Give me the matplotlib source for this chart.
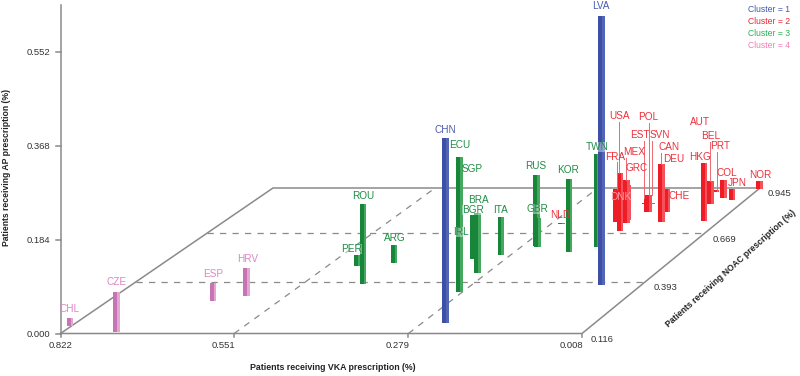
import numpy as np
import matplotlib
matplotlib.use('Agg')
import matplotlib.pyplot as plt

plt.rcParams['font.family'] = ['Liberation Sans', 'DejaVu Sans']

# Values (share of patients)
countries = ['CHL', 'CZE', 'ESP', 'HRV',
             'ROU', 'PER', 'ARG', 'ECU', 'SGP', 'IRL', 'BGR', 'BRA', 'ITA', 'RUS', 'GBR', 'KOR', 'TWN',
             'CHN', 'LVA',
             'NLD', 'USA', 'FRA', 'DNK', 'MEX', 'GRC', 'EST', 'POL', 'SVN', 'CAN', 'DEU', 'CHE',
             'HKG', 'AUT', 'BEL', 'PRT', 'COL', 'JPN', 'NOR']
clusters = [4, 4, 4, 4,
            3, 3, 3, 3, 3, 3, 3, 3, 3, 3, 3, 3, 3,
            1, 1,
            2, 2, 2, 2, 2, 2, 2, 2, 2, 2, 2, 2,
            2, 2, 2, 2, 2, 2, 2]
vka = [0.824, 0.738, 0.656, 0.614,
       0.455, 0.502, 0.450, 0.284, 0.294, 0.376, 0.331, 0.295, 0.295, 0.256, 0.252, 0.191, 0.156,
       0.243, 0.072,
       0.262, 0.151, 0.175, 0.179, 0.157, 0.162, 0.145, 0.144, 0.159, 0.102, 0.146, 0.113,
       0.034, 0.046, 0.058, 0.073, 0.048, 0.030, 0.007]
noac = [0.155, 0.124, 0.289, 0.315,
        0.382, 0.481, 0.498, 0.338, 0.364, 0.584, 0.521, 0.442, 0.544, 0.595, 0.590, 0.561, 0.590,
        0.172, 0.375,
        0.725, 0.683, 0.736, 0.749, 0.730, 0.749, 0.797, 0.797, 0.843, 0.737, 0.870, 0.797,
        0.743, 0.779, 0.846, 0.923, 0.883, 0.870, 0.939]
ap = [0.016, 0.078, 0.035, 0.055,
      0.156, 0.022, 0.035, 0.264, 0.225, 0.016, 0.086, 0.117, 0.075, 0.139, 0.057, 0.143, 0.182,
      0.362, 0.527,
      0.002, 0.114, 0.065, 0.041, 0.084, 0.069, 0.027, 0.033, 0.002, 0.114, 0.059, 0.045,
      0.114, 0.098, 0.045, 0.002, 0.035, 0.022, 0.016]

vka_ticks = ['0.822', '0.551', '0.279', '0.008']
noac_ticks = ['0.116', '0.393', '0.669', '0.945']
ap_ticks = ['0.000', '0.184', '0.368', '0.552']

# Layout, in pixels of the 800x376 picture
label_pos = {'CHL': (70, 309), 'CZE': (117, 282), 'ESP': (213, 274), 'HRV': (248, 259),
             'ROU': (363, 196), 'PER': (352, 249), 'ARG': (395, 238), 'CHN': (445, 130),
             'ECU': (460, 145), 'SGP': (472, 169), 'IRL': (461, 232), 'BRA': (478, 200),
             'BGR': (473, 210), 'ITA': (500, 210), 'RUS': (536, 166), 'GBR': (537, 209),
             'NLD': (560, 215), 'KOR': (568, 170), 'TWN': (597, 147), 'LVA': (601, 6),
             'USA': (620, 116), 'FRA': (615, 157), 'DNK': (621, 197), 'MEX': (634, 152),
             'GRC': (637, 168), 'EST': (640, 135), 'POL': (648, 117), 'SVN': (660, 135),
             'CAN': (669, 147), 'DEU': (674, 159), 'CHE': (679, 196), 'AUT': (700, 122),
             'HKG': (700, 157), 'BEL': (711, 136), 'PRT': (720, 146), 'COL': (727, 173),
             'JPN': (737, 183), 'NOR': (760, 175)}
leaders = [(619, 122, 173), (617, 162, 189), (626, 158, 180), (644, 141, 198),
           (649, 123, 195), (652, 141, 195), (661, 153, 164), (710, 142, 181), (717, 152, 191)]
bar_width = {'SVN': 13, 'PRT': 5}
washed_labels = ['IRL', 'GBR', 'PER', 'TWN', 'BGR']

dark = {1: '#3d50a6', 2: '#ee1c25', 3: '#17853a', 4: '#c873b4'}
light = {1: '#5365b6', 2: '#f4515a', 3: '#45a85f', 4: '#e2a8d2'}
text_col = {1: '#4a5cae', 2: '#ee2f3a', 3: '#1f8c45', 4: '#df85c4'}
legend_col = {1: '#4058aa', 2: '#ee2530', 3: '#2cb04f', 4: '#f17fb2'}
grey = '#8a8a8a'


def project(v, n):
    # slight perspective: the back of the floor is narrower than the front
    s = (np.asarray(n, dtype=float) - 0.116) / 0.829
    t = s * 1.1 / (1 + 0.1 * s)
    u = (0.822 - np.asarray(v, dtype=float)) / 0.814
    x = 60.5 + 212.5 * t + u * (521.5 - 34.5 * t)
    y = 333.5 - 145.5 * t
    return x, y


fig = plt.figure(figsize=(8, 3.76), dpi=100)
ax = fig.add_axes([0, 0, 1, 1])
ax.set_xlim(0, 800)
ax.set_ylim(376, 0)
ax.axis('off')

# Floor outline and grid
corners = project([0.822, 0.008, 0.008, 0.822, 0.822], [0.116, 0.116, 0.945, 0.945, 0.116])
ax.plot(corners[0], corners[1], color=grey, lw=1.1)
ax.plot([60.5, 60.5], [5, 333.5], color=grey, lw=1.1)
for v in [0.551, 0.279]:
    xs, ys = project([v, v], [0.116, 0.945])
    ax.plot(xs, ys, color=grey, lw=0.9, dashes=(5, 5))
for n in [0.393, 0.669]:
    xs, ys = project([0.822, 0.008], [n, n])
    ax.plot(xs, ys, color=grey, lw=0.9, dashes=(5, 5))

# Ticks
for lab in ap_ticks:
    y = 333.5 - float(lab) * 510
    ax.plot([56, 60.5], [y, y], color=grey, lw=1.1)
    ax.text(50, y + 1, lab, ha='right', va='center', fontsize=6.8, color='#333333')
for lab in vka_ticks:
    x, y = project(float(lab), 0.116)
    ax.plot([x, x], [y, y + 3], color=grey, lw=1.1)
    ax.text(x - 11 if lab != '0.822' else x, 346, lab, ha='center', va='center', fontsize=6.8, color='#333333')
for lab in noac_ticks:
    x, y = project(0.008, float(lab))
    ax.text(x + 20, y + 6, lab, ha='center', va='center', fontsize=6.8, color='#333333')

# Bars, back to front
order = np.argsort(-np.array(noac), kind='stable')
xs, ys = project(vka, noac)
for i in order:
    h = -ap[i] * 510
    c = clusters[i]
    w = bar_width.get(countries[i], 6.6)
    ax.bar(xs[i] - w * 0.2, h, width=w * 0.6, bottom=ys[i], color=dark[c], lw=0, zorder=3)
    ax.bar(xs[i] + w * 0.3, h, width=w * 0.4, bottom=ys[i], color=light[c], lw=0, zorder=3)

for x, y0, y1 in leaders:
    ax.plot([x, x], [y0, y1], color='#f2666d', lw=0.7, zorder=4)

# Country labels
for name, c in zip(countries, clusters):
    col = '#f7a0a8' if name == 'DNK' else text_col[c]
    lx, ly = label_pos[name]
    box = dict(fc='white', alpha=0.4, pad=0, lw=0) if name in washed_labels else None
    ax.text(lx, ly, name, ha='center', va='center', fontsize=7.2, color=col, zorder=5, bbox=box)

# Legend
for k in [1, 2, 3, 4]:
    ax.text(748, 9.5 + 12 * (k - 1), 'Cluster = %d' % k, ha='left', va='center', fontsize=6.2, color=legend_col[k])

# Axis titles
ax.text(333, 368, 'Patients receiving VKA prescription (%)', ha='center', va='center',
        fontsize=6.3, fontweight='bold', color='#222222')
ax.text(7, 168, 'Patients receiving AP prescription (%)', ha='center', va='center', rotation=90,
        fontsize=6.2, fontweight='bold', color='#222222')
ax.text(731, 269, 'Patients receiving NOAC prescription (%)', ha='center', va='center', rotation=41.8,
        rotation_mode='anchor', fontsize=6.2, fontweight='bold', color='#222222')

plt.savefig('out.png', dpi=100)
